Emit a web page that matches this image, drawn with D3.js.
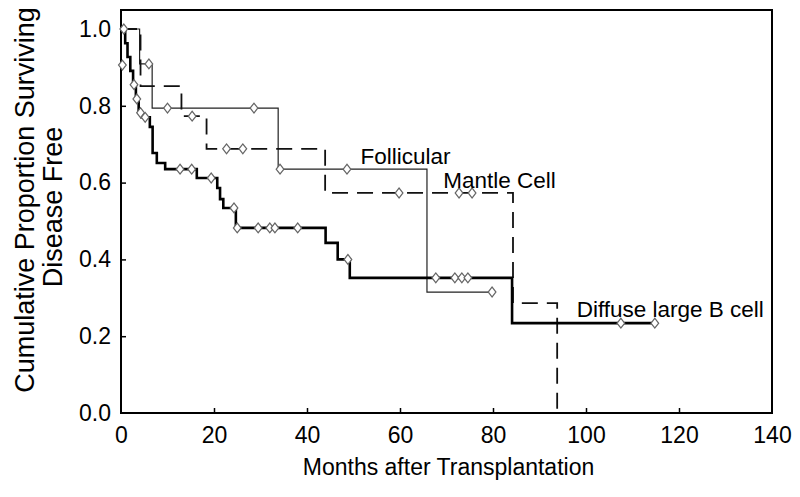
<!DOCTYPE html>
<html><head><meta charset="utf-8">
<script src="https://cdn.jsdelivr.net/npm/d3@7"></script>
<style>body{margin:0;background:#fff}svg{display:block}text{font-family:"Liberation Sans",Arial,sans-serif;fill:#000}</style>
</head><body><svg id="c" width="800" height="497"></svg>
<script>
// ---- data ----
const xTicks = [0,20,40,60,80,100,120,140];
const yTicks = [0.0,0.2,0.4,0.6,0.8,1.0];
// step drops: [month, survival after drop]
const follicularDrops = [[4.0,0.909],[6.7,0.794],[33.8,0.635],[65.8,0.315]];
const follicularCensor = [[6.0,0.909],[10.0,0.794],[28.6,0.794],[34.2,0.635],[48.6,0.635],[79.8,0.315]];
const follicularEnd = 79.8;
const mantleDrops = [[4.2,0.851],[13.0,0.773],[18.4,0.688],[43.9,0.573],[84.3,0.286],[93.8,0.0]];
const mantleCensor = [[15.3,0.773],[22.7,0.688],[26.2,0.688],[59.8,0.573],[72.7,0.573],[75.5,0.573]];
const mantleEnd = 93.8;
const dlbclDrops = [[0.9,0.963],[1.4,0.927],[2.0,0.891],[2.6,0.855],[3.2,0.818],[3.8,0.782],[4.4,0.770],[6.2,0.745],[6.8,0.677],[7.7,0.651],[9.5,0.635],[16.3,0.612],[20.7,0.586],[21.3,0.557],[22.0,0.534],[24.7,0.482],[44.0,0.443],[46.6,0.400],[49.2,0.352],[84.1,0.234]];
const dlbclCensor = [[0.6,1.0],[0.3,0.906],[2.8,0.855],[3.4,0.818],[4.2,0.782],[5.2,0.770],[12.7,0.635],[15.2,0.635],[19.4,0.612],[24.3,0.534],[25.0,0.482],[29.5,0.482],[32.0,0.482],[33.1,0.482],[38.0,0.482],[48.8,0.400],[67.7,0.352],[71.8,0.352],[73.3,0.352],[74.6,0.352],[107.5,0.234],[114.8,0.234]];
const dlbclEnd = 114.8;
const labels = [["Follicular",51.5,0.648],["Mantle Cell",69.3,0.585],["Diffuse large B cell",98,0.25]];

// ---- chart ----
const svg = d3.select("#c");
const L=121,R=772,T=10,B=413;
const x = d3.scaleLinear().domain([0,140]).range([L,R]);
const y = d3.scaleLinear().domain([0,1]).range([B,B-384]);

function stepPts(drops,end){
  const pts=[[0,1]]; let s=1;
  drops.forEach(([t,v])=>{pts.push([t,s]);pts.push([t,v]);s=v;});
  const last=pts[pts.length-1][0];
  if(end>last) pts.push([end,s]);
  return pts;
}
const line = d3.line().x(d=>x(d[0])).y(d=>y(d[1]));

// axes frame
svg.append("rect").attr("x",L).attr("y",T).attr("width",R-L).attr("height",B-T)
  .attr("fill","none").attr("stroke","#000").attr("stroke-width",2);

const xa = svg.append("g").attr("transform",`translate(0,${B})`)
  .call(d3.axisBottom(x).tickValues(xTicks).tickSize(-5).tickPadding(10).tickFormat(d3.format("d")));
const ya = svg.append("g").attr("transform",`translate(${L},0)`)
  .call(d3.axisLeft(y).tickValues(yTicks).tickSize(-5).tickPadding(10).tickFormat(d3.format(".1f")));
[xa,ya].forEach(g=>{g.select(".domain").remove();
  g.selectAll(".tick line").attr("stroke","#000").attr("stroke-width",1.5);
  g.selectAll("text").style("font-size","23px").style("font-family","Liberation Sans, Arial, sans-serif").attr("fill","#000");});
xa.selectAll("text").attr("dy","0.85em");
xa.selectAll(".tick").filter(d=>d===0||d===140).select("line").remove();
ya.selectAll(".tick").filter(d=>d===0).select("line").remove();

// curves
svg.append("path").attr("d",line(stepPts(follicularDrops,follicularEnd)))
  .attr("fill","none").attr("stroke","#222").attr("stroke-width",1.2);
svg.append("path").attr("d",line(stepPts(mantleDrops,mantleEnd)))
  .attr("fill","none").attr("stroke","#111").attr("stroke-width",1.8).attr("stroke-dasharray","16,9");
svg.append("path").attr("d",line(stepPts(dlbclDrops,dlbclEnd)))
  .attr("fill","none").attr("stroke","#000").attr("stroke-width",2.6);

const diamond = d3.symbol().type(d3.symbolDiamond).size(28);
[follicularCensor,mantleCensor,dlbclCensor].forEach(arr=>{
  svg.append("g").selectAll("path").data(arr).join("path")
    .attr("d",diamond).attr("transform",d=>`translate(${x(d[0])},${y(d[1])}) scale(1.35,1)`)
    .attr("fill","#fff").attr("stroke","#666").attr("stroke-width",1);
});

// labels
svg.append("g").selectAll("text").data(labels).join("text")
  .attr("x",d=>x(d[1])).attr("y",d=>y(d[2])).text(d=>d[0]).style("font-size","22.5px");

svg.append("text").attr("x",(L+R)/2 + 2).attr("y",475).attr("text-anchor","middle")
  .style("font-size","23px").text("Months after Transplantation");
svg.append("text").attr("transform",`translate(34,200) rotate(-90)`).attr("text-anchor","middle")
  .style("font-size","27px").text("Cumulative Proportion Surviving");
svg.append("text").attr("transform",`translate(62,207) rotate(-90)`).attr("text-anchor","middle")
  .style("font-size","27px").text("Disease Free");
</script></body></html>
